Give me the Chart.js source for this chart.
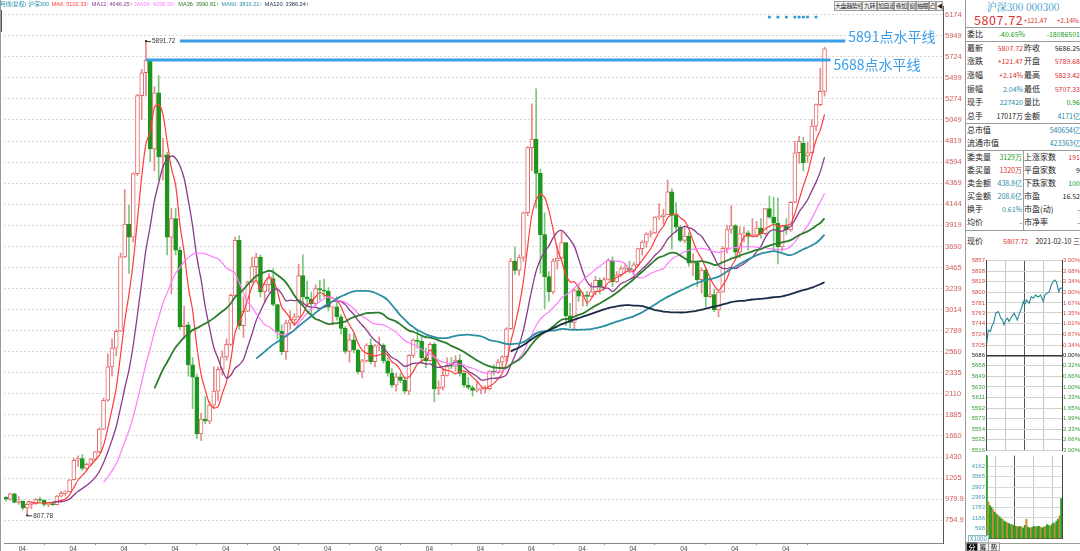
<!DOCTYPE html>
<html>
<head>
<meta charset="utf-8">
<script src="https://cdn.jsdelivr.net/npm/chart.js@4.4.1/dist/chart.umd.min.js"></script>
<style>
  html, body { margin: 0; padding: 0; background: #fff; }
  body { width: 1080px; height: 551px; position: relative; overflow: hidden; font-family: "Liberation Sans", "DejaVu Sans", sans-serif; }
  canvas { position: absolute; }
  .t { position: absolute; white-space: nowrap; line-height: 1; font-family: "Noto Sans CJK SC", "Liberation Sans", sans-serif; }
  .hl { position: absolute; height: 1px; background: #9a9a9a; }
  .vl { position: absolute; width: 1px; background: #9a9a9a; }
  .btn { position: absolute; top: 1px; height: 10px; border: 1px solid #9a9a9a; background: #f3f3f3; font-size: 6px; line-height: 8px; text-align: center; white-space: nowrap; overflow: hidden; letter-spacing: -0.4px; font-family: "Noto Sans CJK SC", sans-serif; color: #222; box-sizing: border-box; }
</style>
</head>
<body>
<canvas id="main" width="965" height="551" style="left:0;top:0;width:965px;height:551px"></canvas>
<canvas id="tick" width="114" height="200" style="left:966px;top:255px;width:114px;height:200px"></canvas>
<canvas id="vol" width="114" height="92" style="left:966px;top:451px;width:114px;height:92px"></canvas>
<div id="ov"></div>
<script>
// 沪深300 月线 2005-01 .. 2021-02
const opens = [
  1000,982,1038,947,959,887,925,938,977,969,925,935,
  923,1013,1043,1061,1189,1398,1416,1310,1355,1410,1488,1732,
  2041,2400,2600,2781,3578,3930,3790,4471,5307,5552,5688,4737,
  5338,4650,4671,3790,3990,3650,2830,2850,2420,2290,1680,1840,
  1818,1990,2140,2373,2507,2640,3166,3757,2842,2996,3310,3474,
  3575,3204,3281,3345,3068,2780,2563,2868,2903,2935,3379,3150,
  3128,3076,3239,3223,3211,3039,3044,2937,2812,2564,2690,2580,
  2346,2464,2634,2454,2626,2632,2462,2333,2204,2293,2254,2139,
  2523,2686,2673,2495,2467,2640,2164,2180,2308,2409,2408,2472,
  2330,2202,2178,2146,2158,2160,2165,2353,2338,2450,2508,2808,
  3533,3434,3572,4051,4750,4841,4473,3817,3367,3203,3534,3566,
  3731,2946,2877,3218,3156,3169,3154,3203,3327,3253,3336,3538,
  3310,3387,3452,3456,3439,3493,3666,3737,3822,3836,4006,4006,
  4030,4275,4023,3898,3756,3802,3510,3517,3334,3438,3153,3173,
  3010,3201,3670,3872,3913,3629,3825,3835,3799,3814,3886,3828,
  4096,4003,3940,3686,3912,3867,4164,4695,4797,4660,4695,4980,
  5211,5352
];
const highs = [
  1008,1045,1045,1010,965,943,940,990,1000,975,942,950,
  1020,1065,1070,1190,1420,1445,1460,1370,1420,1495,1745,2065,
  2540,2700,2800,3620,4300,4130,4480,5320,5590,5891.72,5700,5400,
  5522,4850,4700,4100,4100,3680,3050,2880,2500,2320,1900,2080,
  2030,2400,2400,2570,2700,3180,3790,3803,3150,3320,3575,3620,
  3600,3300,3400,3450,3070,2850,2900,3000,2970,3500,3600,3320,
  3200,3280,3330,3340,3250,3050,3150,2960,2830,2750,2750,2590,
  2480,2650,2700,2640,2720,2650,2500,2380,2330,2330,2290,2530,
  2700,2790,2720,2600,2660,2660,2250,2380,2500,2500,2520,2530,
  2350,2290,2200,2240,2180,2200,2360,2420,2480,2520,2820,3560,
  3685,3600,4060,4760,5220,5380,4520,4050,3420,3560,3700,3850,
  3731,3080,3240,3290,3200,3210,3300,3370,3350,3360,3560,3580,
  3420,3480,3510,3530,3520,3670,3750,3840,3860,4010,4150,4090,
  4403,4310,4160,3920,3890,3840,3610,3530,3460,3460,3350,3230,
  3220,3690,3920,4127,3930,3900,3900,3860,3990,3960,3990,4100,
  4230,4220,4210,3920,3990,4170,4820,4870,4860,4810,5050,5220,
  5600,5823.42
];
const lows = [
  960,968,943,925,867,807.78,880,925,940,905,900,912,
  920,1005,1020,1058,1185,1330,1290,1285,1345,1400,1480,1725,
  2030,2300,2520,2780,3570,3400,3740,4450,5050,5300,4600,4500,
  4400,4400,3600,3180,3600,2800,2700,2300,1950,1630,1607,1790,
  1790,1950,2040,2310,2470,2630,3150,2800,2712,2990,3300,3330,
  3150,3100,3200,3050,2700,2530,2480,2800,2840,2930,3050,3050,
  2950,3050,3120,3150,3000,2850,2900,2750,2540,2450,2550,2320,
  2280,2450,2430,2400,2570,2440,2300,2180,2140,2230,2110,2100,
  2500,2600,2450,2390,2460,2023,2100,2150,2300,2380,2350,2300,
  2180,2160,2086,2130,2110,2120,2150,2310,2330,2390,2460,2800,
  3390,3380,3530,4020,4500,4100,3400,3025,3100,3180,3450,3550,
  2840,2820,2800,3100,3050,3050,3150,3170,3180,3220,3330,3260,
  3300,3370,3400,3410,3340,3470,3600,3680,3790,3830,3980,3930,
  4030,3660,3840,3740,3730,3480,3380,3260,3190,3040,3140,2990,
  2935,3200,3620,3830,3570,3570,3740,3650,3790,3790,3780,3810,
  3990,3650,3503,3640,3820,3850,4160,4580,4500,4590,4690,4930,
  5200,5300
];
const closes = [
  982,1038,947,959,887,925,938,977,969,925,935,923,
  1013,1043,1061,1189,1398,1416,1310,1355,1410,1488,1732,2041,
  2400,2600,2781,3578,3930,3790,4471,5307,5552,5688,4737,5338,
  4650,4671,3790,3990,3650,2830,2850,2420,2290,1680,1840,1818,
  1990,2140,2373,2507,2640,3166,3757,2842,2996,3310,3474,3575,
  3204,3281,3345,3068,2780,2563,2868,2903,2935,3379,3150,3128,
  3076,3239,3223,3211,3039,3044,2937,2812,2564,2690,2580,2346,
  2464,2634,2454,2626,2632,2462,2333,2204,2293,2254,2139,2523,
  2686,2673,2495,2467,2640,2164,2180,2308,2409,2408,2472,2330,
  2202,2178,2146,2158,2160,2165,2353,2338,2450,2508,2808,3533,
  3434,3572,4051,4750,4841,4473,3817,3367,3203,3534,3566,3731,
  2946,2877,3218,3156,3169,3154,3203,3327,3253,3336,3538,3310,
  3387,3452,3456,3439,3493,3666,3737,3822,3836,4006,4006,4030,
  4275,4023,3898,3756,3802,3510,3517,3334,3438,3153,3173,3010,
  3201,3670,3872,3913,3629,3825,3835,3799,3814,3886,3828,4096,
  4003,3940,3686,3912,3867,4164,4695,4816,4587,4695,4980,5211,
  5352,5807.72
];

const maPeriods = [6, 12, 24, 36, 60, 120];
const maColors = ['#ff3b3b', '#8a3a8c', '#ff7cff', '#2c7d2c', '#2b8fa2', '#1a2b45'];
const maWidths = [1.2, 1.3, 1.2, 1.8, 1.8, 1.8];
const maLegend = ['MA6: 5102.33', 'MA12: 4646.25', 'MA24: 4258.39', 'MA36: 3990.81', 'MA60: 3816.21', 'MA120: 3386.24'];

const yTickLabels = ['6174','5949','5724','5499','5274','5049','4819','4594','4369','4144','3919','3690','3465',
  '3239','3014','2789','2560','2335','2110','1885','1660','1430','1205','979.9','754.9'];
const xTickIdx = [3,15,27,39,51,63,75,87,99,111,123,135,147,159,171,183];
const xTickText = '04';

// 水平线
const hLevels = [5891.72, 5688];
const hStart = [41, 33];
const hEnd = [197.9, 194.4];
const hText = ['5891点水平线', '5688点水平线'];

const signalIdx = [180, 182, 184, 186, 187, 188, 189, 191];
const signalLevel = 6150;

// 分时
const tMinutes = [0,3,7,14,18,24,31,39,43,47,52,57,63,68,73,81,89,94,99,104,112,118,122,128,136,143,149,157,162,167,172,181,186,193,200,206,212,217,222,226,230,234,240];
const tPrices = [5714.7,5711.7,5732.6,5729.6,5738.6,5744.6,5762.6,5765.5,5759.6,5753.6,5750.6,5741.6,5750.6,5753.6,5747.6,
  5756.6,5762.6,5756.6,5750.6,5759.6,5771.5,5783.5,5777.5,5786.5,5780.5,5792.4,5789.5,5795.4,5792.4,5792.4,
  5795.4,5783.5,5795.4,5798.5,5801.4,5813.4,5819.3,5822.3,5819.3,5810.3,5801.4,5807.4,5807.7];
const tTicks = [5857,5838,5819,5800,5781,5763,5744,5724,5705,5686,5668,5649,5630,5611,5592,5573,5554,5535,5516];
const tPct = ['3.00%','2.68%','2.34%','2.00%','1.67%','1.35%','1.01%','0.67%','0.34%','0.00%',
  '0.32%','0.66%','1.00%','1.33%','1.65%','1.99%','2.33%','2.66%','3.00%'];
const preClose = 5686;
const volumes = [4800,2100,1900,1800,1650,1500,1400,1350,1250,1150,1100,1000,950,900,850,800,800,750,700,700,650,700,650,600,
  750,1100,650,600,620,650,700,650,680,700,650,600,650,700,800,750,700,800,900,850,1000,1100,1300,2300];
const volTicks = [4162,3565,2967,2369,1783,1186,598];

const RED = '#e0302c', GREEN = '#139a13', TEAL = '#1f8aa6', BLUE = '#3a9ee8';

function sma(arr, n) {
  return arr.map((v, i) => i < n - 1 ? null : arr.slice(i - n + 1, i + 1).reduce((a, b) => a + b, 0) / n);
}

const idx = closes.map((c, i) => i);
const isUp = idx.map(i => closes[i] >= opens[i]);

const datasets = [];
datasets.push({
  type: 'bar', order: 20, grouped: false, barThickness: 1,
  data: idx.map(i => ({ x: i, y: [lows[i], highs[i]] })),
  backgroundColor: idx.map(i => isUp[i] ? '#e98a8a' : '#7cc47c'),
  borderWidth: 0
});
datasets.push({
  type: 'bar', order: 19, grouped: false, barThickness: 4, minBarLength: 1,
  data: idx.map(i => ({ x: i, y: [opens[i], closes[i]] })),
  backgroundColor: idx.map(i => isUp[i] ? '#ffffff' : '#1e961e'),
  borderColor: idx.map(i => isUp[i] ? '#e06a6a' : '#1e961e'),
  borderWidth: 1, borderSkipped: false
});
maPeriods.forEach((p, k) => {
  const ma = sma(closes, p);
  datasets.push({
    type: 'line', order: 10 - k,
    data: idx.filter(i => ma[i] !== null).map(i => ({ x: i, y: ma[i] })),
    borderColor: maColors[k], borderWidth: maWidths[k], pointRadius: 0, tension: 0.3, fill: false
  });
});
hLevels.forEach((lv, k) => {
  datasets.push({
    type: 'line', order: 0,
    data: [{ x: hStart[k], y: lv }, { x: hEnd[k], y: lv }],
    borderColor: BLUE, borderWidth: 3, pointRadius: 0, fill: false
  });
});
datasets.push({
  type: 'scatter', order: 0,
  data: signalIdx.map(i => ({ x: i, y: signalLevel })),
  pointRadius: 1.6, pointBackgroundColor: '#2f9ad8', pointBorderWidth: 0
});

const notePlugin = {
  id: 'notes',
  afterDatasetsDraw(chart) {
    const { ctx, scales: { x, y } } = chart;
    ctx.save();
    // 最高 / 最低 标注
    const hi = highs.indexOf(Math.max(...highs));
    const lo = lows.indexOf(Math.min(...lows));
    [[hi, highs[hi], '5891.72'], [lo, lows[lo], '807.78']].forEach(([i, v, s]) => {
      const px = x.getPixelForValue(i), py = y.getPixelForValue(v);
      ctx.fillStyle = '#333'; ctx.strokeStyle = '#333'; ctx.lineWidth = 1;
      ctx.fillRect(px - 1, py - 1, 2, 2);
      ctx.beginPath(); ctx.moveTo(px, py + 0.5); ctx.lineTo(px + 5, py + 0.5); ctx.stroke();
      ctx.font = '6.5px "Liberation Sans", sans-serif';
      ctx.textBaseline = 'middle'; ctx.textAlign = 'left';
      ctx.fillText(s, px + 6, py + 0.5);
    });
    // 水平线文字
    ctx.font = '14px "Noto Sans CJK SC", sans-serif';
    ctx.fillStyle = BLUE; ctx.textBaseline = 'middle'; ctx.textAlign = 'left';
    hLevels.forEach((lv, k) => {
      const px = x.getPixelForValue(hEnd[k]) + 3;
      const py = y.getPixelForValue(lv) + (k === 0 ? -4 : 5);
      ctx.fillText(hText[k], px, py);
    });
    ctx.restore();
  }
};

new Chart(document.getElementById('main'), {
  type: 'bar',
  data: { datasets },
  plugins: [notePlugin],
  options: {
    responsive: false, animation: false, events: [],
    layout: { padding: 0 },
    plugins: { legend: { display: false }, tooltip: { enabled: false } },
    scales: {
      x: {
        type: 'linear', offset: false, min: -0.47, max: 220.93,
        grid: { drawOnChartArea: false, drawTicks: true, tickLength: 2, color: '#888' },
        border: { display: true, color: '#8a8a8a' },
        ticks: { font: { size: 6.5 }, color: '#444', padding: 0, maxRotation: 0, autoSkip: false, align: 'start',
          callback: () => xTickText },
        afterBuildTicks: a => { a.ticks = xTickIdx.map(v => ({ value: v })); },
        afterFit: a => { a.height = 8; }
      },
      y: {
        type: 'linear', position: 'right', min: 511.2, max: 6262.4,
        grid: { color: '#d9d9d9', drawTicks: false },
        border: { display: true, color: '#555', dash: [2, 2] },
        ticks: { font: { size: 7.5 }, color: '#d65a5a', padding: 2, crossAlign: 'near', autoSkip: false,
          callback: v => { const k = yTickLabels.findIndex(s => parseFloat(s) === v); return k >= 0 ? yTickLabels[k] : ''; } },
        afterBuildTicks: a => { a.ticks = yTickLabels.map(s => ({ value: parseFloat(s) })); },
        afterFit: a => { a.width = 22; }
      }
    }
  }
});

// 分时走势
const tColor = c => c.tick.value > preClose ? '#d94a4a' : (c.tick.value === preClose ? '#222' : '#3a9a3a');
new Chart(document.getElementById('tick'), {
  type: 'line',
  data: { datasets: [{ data: tMinutes.map((m, i) => ({ x: m, y: tPrices[i] })), borderColor: '#24889a', borderWidth: 1.1, pointRadius: 0, tension: 0 }] },
  options: {
    responsive: false, animation: false, events: [],
    layout: { padding: { top: 5.7, bottom: 3.7 } },
    plugins: { legend: { display: false }, tooltip: { enabled: false } },
    scales: {
      x: {
        type: 'linear', min: 0, max: 240,
        grid: { color: c => c.tick && c.tick.value === 120 ? '#555' : '#c8c8c8', drawTicks: false },
        border: { display: false },
        ticks: { display: false },
        afterBuildTicks: a => { a.ticks = [0, 60, 120, 180, 240].map(v => ({ value: v })); },
        afterFit: a => { a.height = 0; }
      },
      y: {
        type: 'linear', position: 'left', min: 5516, max: 5857,
        grid: { color: c => c.tick && c.tick.value === preClose ? '#333' : '#d0d0d0', lineWidth: c => c.tick && c.tick.value === preClose ? 1.5 : 1, drawTicks: false },
        border: { display: true, color: '#444' },
        ticks: { font: { size: 6 }, padding: 1, autoSkip: false, color: tColor, callback: v => String(v) },
        afterBuildTicks: a => { a.ticks = tTicks.map(v => ({ value: v })); },
        afterFit: a => { a.width = 20; }
      },
      y2: {
        type: 'linear', position: 'right', min: 5516, max: 5857,
        grid: { display: false, drawTicks: false },
        border: { display: true, color: '#444' },
        ticks: { font: { size: 6 }, padding: 1, crossAlign: 'near', autoSkip: false, color: tColor,
          callback: v => tPct[tTicks.indexOf(v)] },
        afterBuildTicks: a => { a.ticks = tTicks.map(v => ({ value: v })); },
        afterFit: a => { a.width = 18; }
      }
    }
  }
});

// 成交量
new Chart(document.getElementById('vol'), {
  type: 'bar',
  data: { datasets: [{
    data: volumes.map((v, i) => ({ x: i * 5 + 2.5, y: v })),
    backgroundColor: volumes.map((v, i) => i % 3 === 1 ? '#d08a2a' : '#2e9e2e'),
    barThickness: 1.4, grouped: false
  }] },
  options: {
    responsive: false, animation: false, events: [],
    layout: { padding: { top: 0, bottom: 2 } },
    plugins: { legend: { display: false }, tooltip: { enabled: false } },
    scales: {
      x: {
        type: 'linear', min: 0, max: 240, offset: false,
        grid: { color: c => c.tick && c.tick.value === 120 ? '#555' : '#c8c8c8', drawTicks: false },
        border: { display: true, color: '#444' },
        ticks: { display: false },
        afterBuildTicks: a => { a.ticks = [0, 60, 120, 180, 240].map(v => ({ value: v })); },
        afterFit: a => { a.height = 0; }
      },
      y: {
        type: 'linear', position: 'left', min: 0, max: 4784,
        grid: { color: '#d8d8d8', drawTicks: false },
        border: { display: true, color: '#444' },
        ticks: { font: { size: 6 }, padding: 1, autoSkip: false, color: '#4a9ab2', callback: v => String(v) },
        afterBuildTicks: a => { a.ticks = volTicks.map(v => ({ value: v })); },
        afterFit: a => { a.width = 20; }
      },
      y2: {
        type: 'linear', position: 'right', min: 0, max: 4784,
        grid: { display: false, drawTicks: false }, border: { display: true, color: '#444' },
        ticks: { display: false },
        afterFit: a => { a.width = 18; }
      }
    }
  }
});

// 文本层
const ov = document.getElementById('ov');
function txt(x, y, s, color, size, align, extra) {
  const d = document.createElement('div');
  d.className = 't';
  d.textContent = s;
  d.style.left = x + 'px';
  d.style.top = y + 'px';
  d.style.color = color || '#222';
  d.style.fontSize = (size || 8) + 'px';
  const tx = align === 'right' ? '-100%' : (align === 'center' ? '-50%' : '0');
  d.style.transform = 'translate(' + tx + ',-50%)';
  if (extra) Object.assign(d.style, extra);
  ov.appendChild(d);
  return d;
}
function line(cls, x, y, len) {
  const d = document.createElement('div');
  d.className = cls;
  d.style.left = x + 'px'; d.style.top = y + 'px';
  if (cls === 'hl') d.style.width = len + 'px'; else d.style.height = len + 'px';
  ov.appendChild(d);
}

// 顶部图例
let lx = 0;
const legendParts = [['月线(复权)', TEAL], ['沪深300', TEAL]].concat(maLegend.map((s, k) => [s, maColors[k]]));
legendParts.forEach(([s, c], k) => {
  const d = txt(lx, 5, s + (k >= 2 ? '↑' : ''), c, 5.6, null, { fontFamily: '"Liberation Sans","Noto Sans CJK SC",sans-serif' });
  lx += d.getBoundingClientRect().width + 2.5;
});
txt(0, 0, '', '#000', 1, null, { width: '2px', height: '22px', top: '10px', background: '#555', transform: 'none' });
line('vl', 0, 0, 551);

// 工具栏
[['大盘趋势线', 834, 28], ['九转', 862, 15], ['加自选', 877, 17], ['叠加', 894, 14], ['窗', 908, 8], ['抽屉', 916, 13], ['凸', 929, 7], ['◀|', 936, 7]]
  .forEach(([s, x, w]) => {
    const b = document.createElement('div');
    b.className = 'btn'; b.textContent = s;
    b.style.left = x + 'px'; b.style.width = w + 'px';
    ov.appendChild(b);
  });

// 右侧面板
line('vl', 965, 0, 551);
txt(1023, 7, '沪深300 000300', '#2f96c8', 10, 'center', { fontFamily: '"Noto Serif CJK SC","Noto Sans CJK SC",serif' });
txt(974, 19.5, '5807.72', RED, 12.5, null, { letterSpacing: '0.6px' });
txt(1047, 20, '+121.47', RED, 6.5, 'right');
txt(1079, 20, '+2.14%', RED, 6.5, 'right');
line('hl', 966, 27, 114);
txt(967, 34, '委比', '#222', 8);
txt(1025, 34, '-40.65%', GREEN, 7, 'right');
txt(1080, 34, '-18086501', GREEN, 7, 'right');
line('hl', 966, 41, 114);

const quoteRows = [
  ['最新', '5807.72', RED, '昨收', '5686.25', '#222'],
  ['涨跌', '+121.47', RED, '开盘', '5789.68', RED],
  ['涨幅', '+2.14%', RED, '最高', '5823.42', RED],
  ['振幅', '2.04%', TEAL, '最低', '5707.33', RED],
  ['现手', '227420', TEAL, '量比', '0.96', GREEN],
  ['总手', '17017万', '#222', '金额', '4171亿', TEAL]
];
const quoteY = [47.7, 61, 75, 88.7, 102, 116];
quoteRows.forEach((r, k) => {
  txt(967, quoteY[k], r[0], '#222', 8);
  txt(1023, quoteY[k], r[1], r[2], 7, 'right');
  txt(1024, quoteY[k], r[3], '#222', 8);
  txt(1080, quoteY[k], r[4], r[5], 7, 'right');
});
line('hl', 966, 123, 114);
txt(967, 130, '总市值', '#222', 8);
txt(1080, 130, '540654亿', TEAL, 7, 'right');
txt(967, 143, '流通市值', '#222', 8);
txt(1080, 143, '423363亿', TEAL, 7, 'right');
line('hl', 966, 150, 114);
line('vl', 1023, 150, 80);

const bookRows = [
  ['委卖量', '3129万', GREEN, '上涨家数', '191', RED],
  ['委买量', '1320万', RED, '平盘家数', '9', '#222'],
  ['卖金额', '438.8亿', TEAL, '下跌家数', '100', GREEN],
  ['买金额', '208.6亿', TEAL, '市盈', '16.52', '#222'],
  ['换手', '0.61%', TEAL, '市盈(动)', '-', '#222'],
  ['均价', '-', '#222', '市净率', '-', '#222']
];
const bookY = [157, 170, 183, 196, 209, 222];
bookRows.forEach((r, k) => {
  txt(967, bookY[k], r[0], '#222', 8);
  txt(1022, bookY[k], r[1], r[2], 7, 'right');
  txt(1024, bookY[k], r[3], '#222', 8);
  txt(1080, bookY[k], r[4], r[5], 7, 'right');
});
line('hl', 966, 230, 114);
txt(967, 241, '现价', '#222', 8);
txt(1003, 241, '5807.72', RED, 7);
txt(1080, 241, '2021-02-10 三', '#222', 7, 'right');

txt(968, 538.5, 'X1000', '#4a9ab2', 6, null, { border: '1px solid #8fb8c8', background: '#fff', padding: '0 1px' });
line('hl', 966, 543, 114);
[['分', 966, true], ['筹', 977, false], ['势', 988, false]].forEach(([s, x, on]) => {
  txt(x, 547, s, on ? '#fff' : '#222', 7, null, { width: '10px', textAlign: 'center', background: on ? '#111' : '#f2f2f2', border: '1px solid #999', lineHeight: '7px' });
});
</script>
</body>
</html>
